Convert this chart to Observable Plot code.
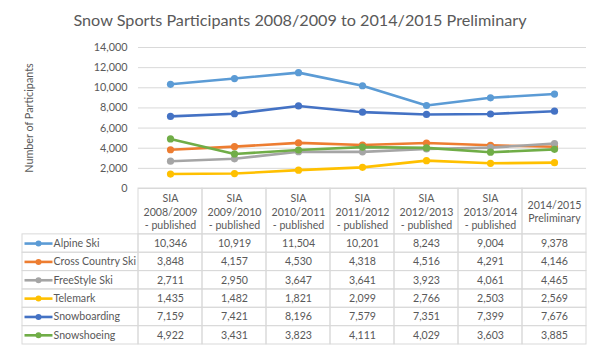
<!DOCTYPE html>
<html><head><meta charset="utf-8">
<script src="https://cdn.jsdelivr.net/npm/d3@7"></script>
<script src="https://cdn.jsdelivr.net/npm/@observablehq/plot@0.6"></script>
<style>
body{margin:0;background:#fff;font-family:Lato,sans-serif;}
#wrap{position:relative;width:600px;height:351px;overflow:hidden;background:#fff}
#wrap svg{position:absolute;left:0;top:0}
#title{position:absolute;left:0;top:11px;width:600px;text-align:center;font-size:16.2px;color:#595959;line-height:17px;white-space:nowrap}
</style></head><body>
<div id="wrap"><div id="title">Snow Sports Participants 2008/2009 to 2014/2015 Preliminary</div></div>
<script>
// ---- data ----
const seasons = [
  "SIA\n2008/2009\n- published",
  "SIA\n2009/2010\n- published",
  "SIA\n2010/2011\n- published",
  "SIA\n2011/2012\n- published",
  "SIA\n2012/2013\n- published",
  "SIA\n2013/2014\n- published",
  "2014/2015\nPreliminary"
];
const seriesNames = ["Alpine Ski", "Cross Country Ski", "FreeStyle Ski", "Telemark", "Snowboarding", "Snowshoeing"];
const seriesColors = ["#5B9BD5", "#ED7D31", "#A5A5A5", "#FFC000", "#4472C4", "#70AD47"];
const alpineSki = [10346, 10919, 11504, 10201, 8243, 9004, 9378];
const crossCountrySki = [3848, 4157, 4530, 4318, 4516, 4291, 4146];
const freeStyleSki = [2711, 2950, 3647, 3641, 3923, 4061, 4465];
const telemark = [1435, 1482, 1821, 2099, 2766, 2503, 2569];
const snowboarding = [7159, 7421, 8196, 7579, 7351, 7399, 7676];
const snowshoeing = [4922, 3431, 3823, 4111, 4029, 3603, 3885];
const yTicks = [0, 2000, 4000, 6000, 8000, 10000, 12000, 14000];

const seriesValues = [alpineSki, crossCountrySki, freeStyleSki, telemark, snowboarding, snowshoeing];
const rows = [];
seriesNames.forEach((s, k) => seriesValues[k].forEach((v, i) => rows.push({series: s, k, season: seasons[i], i, value: v})));

const textColor = "#595959";
const gridColor = "#d9d9d9";
const fmt = d3.format(",");
const font = "Lato, sans-serif";

// ---- chart ----
const chart = Plot.plot({
  width: 600, height: 351,
  marginLeft: 138, marginRight: 14, marginTop: 47, marginBottom: 163,
  style: {background: "transparent", fontFamily: font, fontSize: "10.8px", color: textColor, overflow: "visible"},
  x: {type: "point", domain: seasons, padding: 0.5, axis: null},
  y: {domain: [0, 14000]},
  marks: [
    Plot.gridY(yTicks, {stroke: gridColor, strokeOpacity: 1}),
    Plot.axisY(yTicks, {tickSize: 0, tickPadding: 11, tickFormat: fmt, fill: textColor,
      label: "Number of Participants", labelAnchor: "center", labelOffset: 113, labelArrow: "none"}),
    ...seriesNames.flatMap((s, k) => {
      const d = rows.filter(r => r.k === k);
      return [
        Plot.line(d, {x: "season", y: "value", stroke: seriesColors[k], strokeWidth: 2.6}),
        Plot.dot(d, {x: "season", y: "value", r: 3.6, fill: seriesColors[k], stroke: "none"})
      ];
    })
  ]
});

// ---- data table ----
const LABEL_W = 116 / 64;   // width of the legend column, in column units
const HEADER_H = 2.5;       // header height, in row units
const headerCells = seasons.map((s, i) => ({s, x1: i, x2: i + 1, y1: -HEADER_H, y2: 0}));
const labelCells = seriesNames.map((s, k) => ({s, k, x1: -LABEL_W, x2: 0, y1: k, y2: k + 1, ym: k + 0.5,
  sw1: -LABEL_W + 2 / 64, sw2: -LABEL_W + 30 / 64, swm: -LABEL_W + 16 / 64}));
const valueCells = rows.map(r => ({...r, x1: r.i, x2: r.i + 1, y1: r.k, y2: r.k + 1, xm: r.i + 0.5, ym: r.k + 0.5}));

const table = Plot.plot({
  width: 600, height: 351,
  marginLeft: 22, marginRight: 14, marginTop: 188, marginBottom: 7,
  style: {background: "transparent", fontFamily: font, fontSize: "10.6px", color: textColor},
  x: {domain: [-LABEL_W, seasons.length], axis: null},
  y: {domain: [-HEADER_H, seriesNames.length], reverse: true, axis: null},
  marks: [
    Plot.rect(headerCells, {x1: "x1", x2: "x2", y1: "y1", y2: "y2", fill: "none", stroke: gridColor}),
    Plot.rect(labelCells, {x1: "x1", x2: "x2", y1: "y1", y2: "y2", fill: "none", stroke: gridColor}),
    Plot.rect(valueCells, {x1: "x1", x2: "x2", y1: "y1", y2: "y2", fill: "none", stroke: gridColor}),
    Plot.text(headerCells, {x: d => d.x1 + 0.5, y: -HEADER_H / 2, text: "s", fill: textColor, lineHeight: 1.25, lineAnchor: "middle"}),
    Plot.text(valueCells, {x: "xm", y: "ym", text: d => fmt(d.value), fill: textColor}),
    Plot.link(labelCells, {x1: "sw1", x2: "sw2", y1: "ym", y2: "ym", stroke: d => seriesColors[d.k], strokeWidth: 2.6}),
    Plot.dot(labelCells, {x: "swm", y: "ym", r: 3, fill: d => seriesColors[d.k], stroke: "none"}),
    Plot.text(labelCells, {x: "x1", y: "ym", text: "s", textAnchor: "start", dx: 31, fill: textColor})
  ]
});

const wrap = document.getElementById("wrap");
wrap.appendChild(table);
wrap.appendChild(chart);
</script>
</body></html>
